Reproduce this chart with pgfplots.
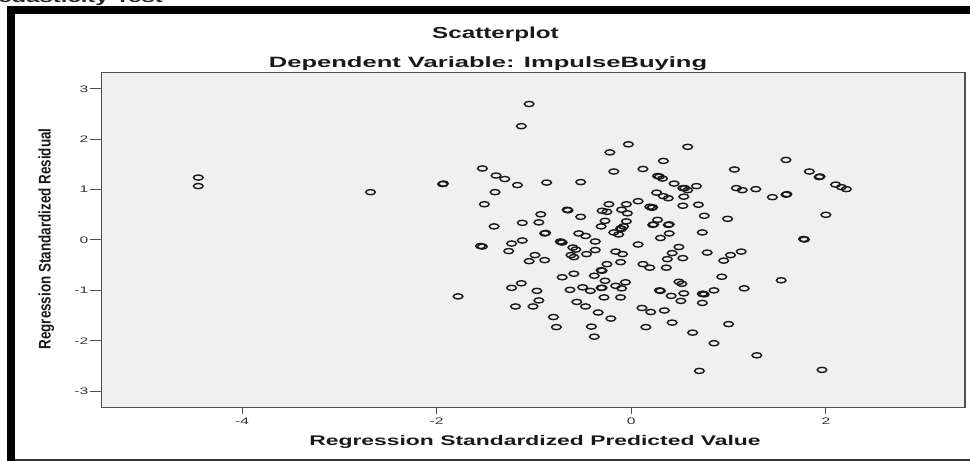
\documentclass[border=0pt]{standalone}
\usepackage{fontspec}
\setmainfont{Liberation Sans}
\usepackage{graphicx}
\usepackage{pgfplots}
\usepackage{pgfplotstable}
\pgfplotsset{compat=1.18}
\definecolor{plotbg}{HTML}{F0F0F0}
\definecolor{framec}{HTML}{505050}

\pgfplotstableread{
x y
-4.45 1.24
-4.45 1.07
-2.68 0.95
-1.94 1.11
-1.93 1.12
-1.53 1.42
-1.39 1.28
-1.30 1.21
-1.17 1.09
-1.40 0.95
-1.51 0.71
-1.41 0.27
-1.53 -0.13
-1.55 -0.12
-1.78 -1.12
-1.05 2.70
-1.13 2.26
-0.03 1.90
-0.22 1.74
0.58 1.85
0.33 1.57
1.59 1.59
-0.87 1.14
-0.52 1.15
-0.18 1.36
0.12 1.41
0.27 1.27
0.29 1.26
0.32 1.22
0.44 1.12
0.53 1.03
0.55 1.03
0.58 0.99
0.67 1.07
1.06 1.40
1.08 1.03
1.14 0.99
1.28 1.01
1.45 0.85
1.59 0.90
1.60 0.91
1.83 1.36
1.93 1.25
1.94 1.26
2.10 1.10
2.16 1.05
2.21 1.01
0.26 0.94
0.33 0.87
0.38 0.83
0.54 0.86
0.07 0.77
-0.23 0.71
-0.05 0.71
0.53 0.68
0.69 0.70
0.19 0.66
0.21 0.64
0.22 0.65
-0.66 0.60
-0.65 0.59
-0.30 0.58
-0.25 0.56
-0.10 0.60
-0.04 0.53
-0.93 0.51
-0.52 0.46
0.75 0.48
0.99 0.42
2.00 0.50
-1.12 0.34
-0.95 0.35
-0.27 0.38
-0.05 0.37
-0.31 0.27
-0.08 0.27
0.22 0.30
0.23 0.31
0.27 0.40
0.38 0.30
0.39 0.31
-0.11 0.23
-0.10 0.22
-0.89 0.13
-0.88 0.14
-0.54 0.13
-0.47 0.08
-0.18 0.15
-0.13 0.11
0.39 0.13
0.73 0.15
0.30 0.04
-1.23 -0.07
-1.26 -0.22
-1.12 -0.01
-0.73 -0.03
-0.71 -0.05
-0.72 -0.04
-0.60 -0.15
-0.57 -0.19
-0.37 -0.03
-0.37 -0.20
-0.46 -0.28
-0.62 -0.30
-0.59 -0.34
-0.99 -0.30
-1.05 -0.42
-0.89 -0.40
-0.16 -0.23
-0.09 -0.28
0.07 -0.09
0.49 -0.14
0.42 -0.26
0.37 -0.38
0.53 -0.36
0.78 -0.25
1.02 -0.30
1.13 -0.23
0.95 -0.41
-0.25 -0.48
-0.11 -0.44
0.12 -0.48
0.19 -0.55
0.36 -0.55
-0.31 -0.60
-0.30 -0.61
-0.59 -0.67
-0.71 -0.74
-0.38 -0.71
-0.27 -0.81
-0.06 -0.84
-1.13 -0.86
-1.23 -0.95
-0.97 -1.01
-0.63 -0.99
-0.50 -0.94
-0.42 -1.01
-0.31 -0.95
-0.30 -0.95
-0.16 -0.91
-0.10 -0.96
0.49 -0.83
0.52 -0.87
0.29 -1.00
0.30 -1.01
0.41 -1.11
0.54 -1.06
0.73 -1.07
0.75 -1.08
0.74 -1.07
0.85 -1.00
0.93 -0.73
1.16 -0.96
1.54 -0.80
1.77 0.02
1.78 0.01
-0.95 -1.20
-1.01 -1.32
-1.19 -1.32
-0.56 -1.23
-0.47 -1.32
-0.28 -1.14
-0.11 -1.14
0.51 -1.21
0.73 -1.25
0.11 -1.35
0.20 -1.43
0.34 -1.40
-0.34 -1.44
-0.21 -1.56
-0.80 -1.53
-0.77 -1.73
-0.41 -1.72
-0.38 -1.92
0.15 -1.73
0.42 -1.64
1.00 -1.67
0.63 -1.84
0.85 -2.05
1.29 -2.29
0.70 -2.60
1.96 -2.58
}\resdata

\begin{document}
\begin{tikzpicture}[x=1bp,y=1bp]
\useasboundingbox (0,0) rectangle (970,461);
% outer frame
\fill[black] (7,447) rectangle (970,455);
\fill[black] (7,0) rectangle (15,455);
\draw[line width=1.5bp, black!80] (15,1) -- (970,1);
% heading above the frame, cut off by the top edge as in the reference
\node[anchor=base east, inner sep=0pt, font=\bfseries\fontsize{15}{18}\selectfont, text=black!85] at (163,458) {\scalebox{1.6}[1]{Heteroscedasticity Test}};

\begin{axis}[
  at={(101bp,53.3bp)}, anchor=south west,
  scale only axis, width=864bp, height=335.4bp,
  xmin=-5.45, xmax=3.43, ymin=-3.33, ymax=3.33,
  axis background/.style={fill=plotbg},
  axis line style={draw=framec, line width=1bp},
  tick align=outside, tick pos=left,
  major tick length=11bp,
  xtick style={/pgfplots/major tick length=6bp},
  tick style={draw=framec, line width=1bp},
  xtick={-4,-2,0,2},
  xticklabels={\scalebox{1.65}[1]{-4},\scalebox{1.65}[1]{-2},\scalebox{1.65}[1]{0},\scalebox{1.65}[1]{2}},
  ytick={-3,-2,-1,0,1,2,3},
  yticklabels={\scalebox{1.65}[1]{-3},\scalebox{1.65}[1]{-2},\scalebox{1.65}[1]{-1},\scalebox{1.65}[1]{0},\scalebox{1.65}[1]{1},\scalebox{1.65}[1]{2},\scalebox{1.65}[1]{3}},
  tick label style={font=\fontsize{9.5}{11}\selectfont, text=black!80},
  x tick label style={yshift=4.5bp},
  y tick label style={inner sep=1.5bp},
  clip=false,
]
\addplot[only marks, mark=o, mark size=2.6bp,
  mark options={xscale=1.85, line width=1.4bp, draw=black!90}]
  table[x=x,y=y]{\resdata};
\end{axis}
% heavier right and bottom edges of the plot box
\draw[line width=1.6bp, framec] (101,53.3) -- (965,53.3) -- (965,388.7);

% titles and axis labels
\node[anchor=base, inner sep=0pt, font=\bfseries\fontsize{16}{19}\selectfont, text=black!90] at (495.5,422) {\scalebox{1.52}[1]{Scatterplot}};
\node[anchor=base, inner sep=0pt, font=\bfseries\fontsize{15}{18}\selectfont, text=black!90] at (488,393.7) {\scalebox{1.71}[1]{Dependent Variable: ImpulseBuying}};
\node[anchor=base, inner sep=0pt, rotate=90, font=\bfseries\fontsize{13.5}{16}\selectfont, text=black!90] at (50.5,222) {\scalebox{1}[1.25]{Regression Standardized Residual}};
\node[anchor=base, inner sep=0pt, font=\bfseries\fontsize{14}{17}\selectfont, text=black!90] at (535,15) {\scalebox{1.64}[1]{Regression Standardized Predicted Value}};
\end{tikzpicture}
\end{document}
